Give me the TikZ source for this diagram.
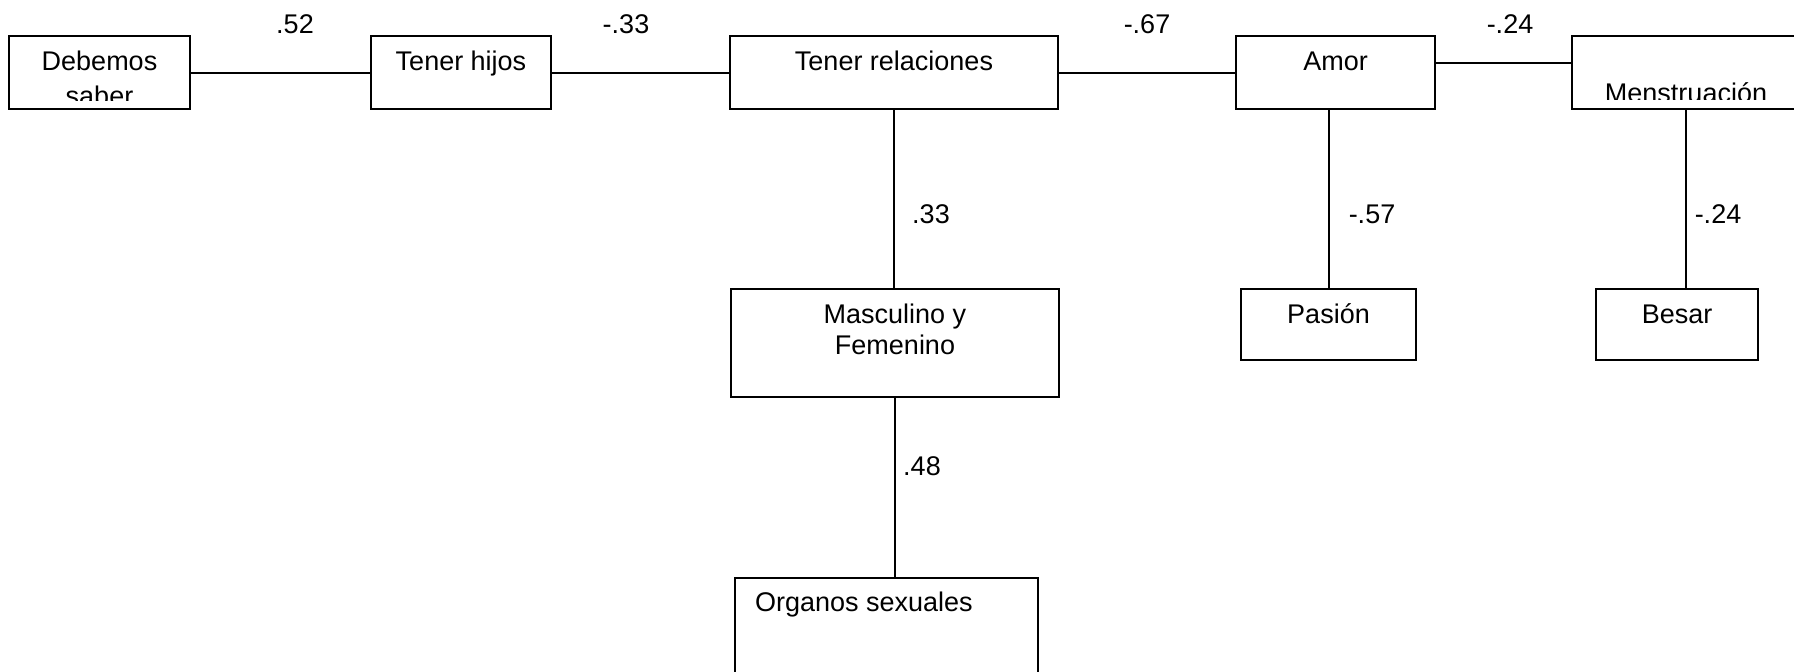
\documentclass[tikz,border=0pt]{standalone}
\usepackage{fontspec}
\setmainfont{Liberation Sans}

\begin{document}
\begin{tikzpicture}[x=0.5pt,y=-0.5pt,color=black,line width=1pt,
caja/.style={draw,inner sep=0pt,minimum height=36.5pt},
texto/.style={inner sep=0pt,anchor=base,align=center,font=\fontsize{13.5}{15.5}\selectfont},
peso/.style={inner sep=0pt,anchor=base,font=\fontsize{13.5}{15.5}\selectfont}]

\useasboundingbox (0,0) rectangle (1794,671);

\node (debemos) at (99.5,72.5)[caja,minimum width=90.5pt]{};

\node (hijos) at (461,72.5)[caja,minimum width=90pt]{};

\node (relaciones) at (894,72.5)[caja,minimum width=164pt]{};

\node (amor) at (1335.5,72.5)[caja,minimum width=99.5pt]{};

\node (menstr) at (1686,72.5)[caja,minimum width=114pt]{};

\node (masculino) at (895,343)[caja,minimum width=164pt,minimum height=54pt]{};

\node (pasion) at (1328.5,324.5)[caja,minimum width=87.5pt,minimum height=35.5pt]{};

\node (besar) at (1677,324.5)[caja,minimum width=81pt,minimum height=35.5pt]{};

\node (organos) at (886.5,639)[caja,minimum width=151.5pt,minimum height=61pt]{};

% textos (los de debemos y menstr quedan cortados)
\begin{scope}
\clip (debemos.north west) rectangle ([yshift=5pt]debemos.south east);
\node (tdebemos) at ([yshift=-35pt]debemos.north)[texto]{Debemos\\[2pt]saber};
\end{scope}

\begin{scope}
\clip (menstr.north west) rectangle ([yshift=5.5pt]menstr.south east);
\node (tmenstr) at ([yshift=-33.5pt]menstr.north)[texto]{Menstruación};
\end{scope}

\node (thijos) at ([yshift=-17.5pt]hijos.north)[texto]{Tener hijos};

\node (trelaciones) at ([yshift=-17.5pt]relaciones.north)[texto]{Tener relaciones};

\node (tamor) at ([yshift=-17.5pt]amor.north)[texto]{Amor};

\node (tmasculino) at ([yshift=-33pt]masculino.north)[texto]{Masculino y\\Femenino};

\node (tpasion) at ([yshift=-17.5pt]pasion.north)[texto]{Pasión};

\node (tbesar) at ([yshift=-17.5pt]besar.north)[texto]{Besar};

\node (torganos) at ([xshift=10pt,yshift=-17pt]organos.north west)[texto,anchor=base west]{Organos sexuales};

\draw (debemos) -- (hijos);
\draw (hijos) -- (relaciones);
\draw (relaciones) -- (amor);
\draw ([yshift=4.75pt]amor.east) -- ([yshift=4.75pt]menstr.west);
\draw (relaciones.south) -- (relaciones.south |- masculino.north);
\draw (pasion.north |- amor.south) -- (pasion.north);
\draw (menstr.south) -- (menstr.south |- besar.north);
\draw (masculino.south) -- (masculino.south |- organos.north);

\node (p1) at (295,33)[peso]{.52};
\node (p2) at (626,33)[peso]{-.33};
\node (p3) at (1147,33)[peso]{-.67};
\node (p4) at (1510,33)[peso]{-.24};
\node (p5) at (931,223)[peso]{.33};
\node (p6) at (1372,223)[peso]{-.57};
\node (p7) at (1718,223)[peso]{-.24};
\node (p8) at (922,475)[peso]{.48};

\end{tikzpicture}
\end{document}
